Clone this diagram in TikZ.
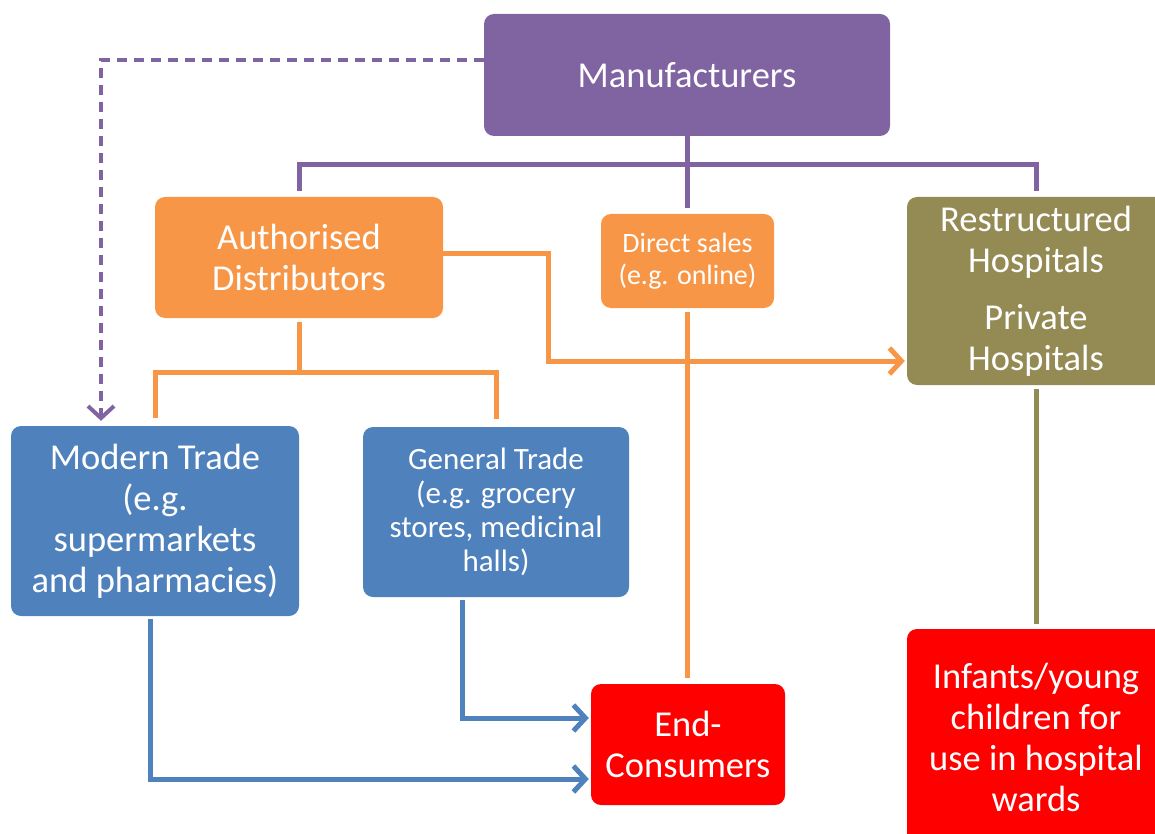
\documentclass[tikz,border=0pt]{standalone}
\usepackage{fontspec}
\setmainfont{Carlito}
\usetikzlibrary{arrows.meta}
\definecolor{cpurple}{HTML}{8064A2}
\definecolor{corange}{HTML}{F79646}
\definecolor{colive}{HTML}{948A54}
\definecolor{cblue}{HTML}{4F81BD}
\definecolor{cred}{HTML}{FF0000}
\tikzset{
  box/.style={rounded corners=10pt, text=white, align=center, inner sep=0pt,
    font=\fontsize{36.5}{41}\selectfont},
  conn/.style={line width=5pt},
  tip/.style={-{Straight Barb[length=12pt,width=26pt]}},
}
\begin{document}
\begin{tikzpicture}[x=1pt,y=-1pt]
\useasboundingbox (0,0) rectangle (1155,834);
\clip (0,0) rectangle (1155,834);
% nodes
\node[box, fill=cpurple, minimum width=406pt, minimum height=122pt] (man) at (687,75) {Manufacturers};
\node[box, fill=corange, minimum width=288pt, minimum height=121pt] (auth) at (299,257.5) {Authorised\\Distributors};
\node[box, fill=corange, minimum width=173pt, minimum height=94pt, font=\fontsize{28}{32}\selectfont] (direct) at (687.5,261) {Direct sales\\(e.g. online)};
\node[box, fill=colive, minimum width=258pt, minimum height=188pt] (hosp) at (1036,291) {Restructured\\Hospitals\\[16pt]Private\\Hospitals};
\node[box, fill=cblue, minimum width=288pt, minimum height=190pt] (modern) at (155,521) {Modern Trade\\(e.g.\\supermarkets\\and pharmacies)};
\node[box, fill=cblue, minimum width=266pt, minimum height=170pt, font=\fontsize{31}{34}\selectfont] (general) at (496,512) {General Trade\\(e.g. grocery\\stores, medicinal\\halls)};
\node[box, fill=cred, minimum width=194pt, minimum height=121pt] (endc) at (688,744.5) {End-\\Consumers};
\node[box, fill=cred, minimum width=258pt, minimum height=216pt] (infant) at (1036,737) {Infants/young\\children for\\use in hospital\\wards};
% coordinates
\coordinate (pbus) at (687,165);
\coordinate (obus) at (299,372);
% purple tree
\draw[conn, cpurple, shorten <=6pt, shorten >=6pt] (auth.north) |- (pbus) -| (hosp.north);
\draw[conn, cpurple, shorten >=6pt] (man.south) -- (man.south |- direct.north);
% dashed
\draw[line width=4pt, cpurple, dash pattern=on 10pt off 7pt, tip, shorten >=5pt]
  ([yshift=15pt]man.west) -| ([xshift=-54pt]modern.north);
% orange to hospitals
\draw[conn, corange, tip, shorten >=2pt] ([yshift=4.5pt]auth.east) -| (548,361) -- ([yshift=-70pt]hosp.west);
% orange tree
\draw[conn, corange, shorten <=4pt] (auth.south) -- (obus);
\draw[conn, corange, shorten <=8pt, shorten >=8pt] (modern.north) |- (obus) -| (general.north);
% direct to end consumers
\draw[conn, corange, shorten <=4pt, shorten >=6pt] (direct.south) -- (direct.south |- endc.north);
% hospitals to infants
\draw[conn, colive, shorten <=4pt, shorten >=5pt] (hosp.south) -- (infant.north);
% blue arrows
\draw[conn, cblue, tip, shorten <=3pt, shorten >=2pt] ([xshift=-5pt]modern.south) |- ([yshift=-34.5pt]endc.west);
\draw[conn, cblue, tip, shorten <=3pt, shorten >=2pt] ([xshift=-34pt]general.south) |- ([yshift=26.5pt]endc.west);
\end{tikzpicture}
\end{document}
